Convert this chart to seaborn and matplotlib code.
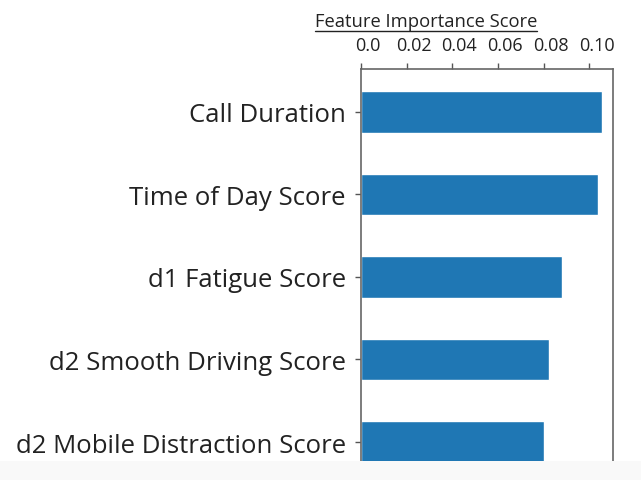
import matplotlib
matplotlib.use('Agg')
import matplotlib.pyplot as plt
import matplotlib.transforms as mtransforms
from matplotlib.patches import Rectangle
from matplotlib.lines import Line2D
import pandas as pd
import seaborn as sns

# Data
features = ['Call Duration', 'Time of Day Score', 'd1 Fatigue Score',
            'd2 Smooth Driving Score', 'd2 Mobile Distraction Score']
importance = [0.1053, 0.1037, 0.0880, 0.0823, 0.0802]
x_ticks = [0.0, 0.02, 0.04, 0.06, 0.08, 0.10]
x_tick_labels = ['0.0', '0.02', '0.04', '0.06', '0.08', '0.10']

df = pd.DataFrame({'feature': features, 'score': importance})

sns.set_style('white')
plt.rcParams['font.family'] = ['Open Sans', 'DejaVu Sans']

fig = plt.figure(figsize=(6.41, 4.81), dpi=100)
ax = fig.add_axes([361 / 641, 1 - 462 / 481, 252 / 641, 392 / 481])

sns.barplot(data=df, x='score', y='feature', orient='h', width=0.5,
            color='#1f77b4', saturation=1, ax=ax)

ax.set_xlim(0, 0.1103)
ax.set_ylim(4.23, -0.52)

# ticks on top, like the screenshot
ax.xaxis.tick_top()
ax.xaxis.set_label_position('top')
ax.set_xticks(x_ticks)
ax.set_xticklabels(x_tick_labels)
ax.tick_params(axis='x', which='both', top=True, bottom=False, length=4,
               width=1, color='#555555', labelsize=13, pad=7,
               labelcolor='#222222')
ax.tick_params(axis='y', left=True, length=4, width=1, color='#555555',
               labelsize=18.5, pad=7, labelcolor='#222222')

# tick labels sit a bit right of their ticks in the reference
offset = mtransforms.ScaledTranslation(7 / 100, 0, fig.dpi_scale_trans)
for lbl in ax.get_xticklabels():
    lbl.set_transform(lbl.get_transform() + offset)

ax.set_ylabel('')
ax.set_xlabel('Feature Importance Score', fontsize=13.2, color='#222222')
ax.xaxis.set_label_coords((426 - 361) / 252, 1 + (70 - 13) / 392)
ax.xaxis.label.set_verticalalignment('top')

for side in ['top', 'left', 'right']:
    ax.spines[side].set_visible(True)
    ax.spines[side].set_color('#666666')
    ax.spines[side].set_linewidth(1.2)
ax.spines['bottom'].set_visible(False)

# underline the axis title
fig.canvas.draw()
bb = ax.xaxis.label.get_window_extent().transformed(fig.transFigure.inverted())
fig.add_artist(Line2D([bb.x0, bb.x1], [bb.y0 - 0.002, bb.y0 - 0.002],
                      transform=fig.transFigure, color='#222222', lw=1))

# light grey strip at the bottom of the screenshot
fig.add_artist(Rectangle((0, 0), 1, 19 / 481, transform=fig.transFigure,
                         facecolor='#f9f9f9', edgecolor='none', zorder=5))

fig.savefig('out.png', dpi=100)
